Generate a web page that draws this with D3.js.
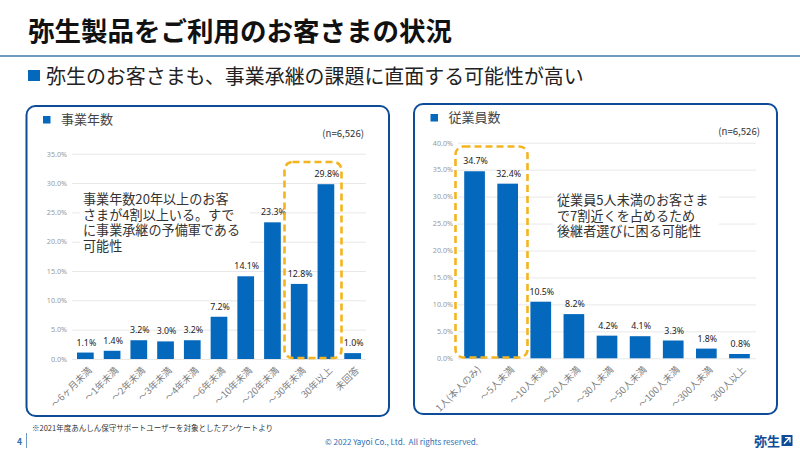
<!DOCTYPE html>
<html lang="ja"><head><meta charset="utf-8">
<script src="https://cdn.jsdelivr.net/npm/d3@7"></script>
<style>html,body{margin:0;padding:0;background:#fff}svg{display:block}text{font-family:"Noto Sans CJK JP","Noto Sans",sans-serif}</style>
</head><body><svg id="c" width="800" height="450"></svg>
<script>
const yearCats=["～6ヶ月未満","～1年未満","～2年未満","～3年未満","～4年未満","～6年未満","～10年未満","～20年未満","～30年未満","30年以上","未回答"];
const yearVals=[1.1,1.4,3.2,3.0,3.2,7.2,14.1,23.3,12.8,29.8,1.0];
const staffCats=["1人(本人のみ)","～5人未満","～10人未満","～20人未満","～30人未満","～50人未満","～100人未満","～300人未満","300人以上"];
const staffVals=[34.7,32.4,10.5,8.2,4.2,4.1,3.3,1.8,0.8];
const yearTicks=[0,5,10,15,20,25,30,35];
const staffTicks=[0,5,10,15,20,25,30,35,40];
const yearNote=["事業年数20年以上のお客","さまが4割以上いる。すで","に事業承継の予備軍である","可能性"];
const staffNote=["従業員5人未満のお客さま","で7割近くを占めるため","後継者選びに困る可能性"];
const BLUE="#0468bd", NAVY="#0f4c97", ORANGE="#f4b41f";
const svg=d3.select("#c");
function txt(x,y,s,size,fill,weight,anchor){return svg.append("text").attr("x",x).attr("y",y).attr("font-size",size).attr("fill",fill).attr("font-weight",weight||400).attr("text-anchor",anchor||"start").text(s);}
// header
txt(28,41,"弥生製品をご利用のお客さまの状況",26.5,"#111",700);
svg.append("rect").attr("x",0).attr("y",55).attr("width",800).attr("height",2).attr("fill","#6d9cc0");
svg.append("rect").attr("x",28).attr("y",70).attr("width",12).attr("height",11).attr("fill",BLUE);
txt(46,84,"弥生のお客さまも、事業承継の課題に直面する可能性が高い",19.95,"#222");
function panel(o){
  svg.append("rect").attr("x",o.px).attr("y",o.py).attr("width",o.pw).attr("height",o.ph).attr("rx",9).attr("fill","#fff").attr("stroke",NAVY).attr("stroke-width",2);
  svg.append("rect").attr("x",o.px+16.5).attr("y",o.py+10).attr("width",7.5).attr("height",7.5).attr("fill",BLUE);
  txt(o.px+34.5,o.py+18,o.title,13,"#444",400);
  txt(o.nx,o.ny,"(n=6,526)",9.6,"#333",400,"end");
  const x=d3.scaleBand().domain(o.cats).range([o.x0,o.x1]).paddingInner(o.pad).paddingOuter(o.pad/2);
  const y=d3.scaleLinear().domain([0,o.max]).range([o.y0,o.y1]);
  const g=svg.append("g");
  const ya=g.append("g").attr("transform",`translate(${o.x0},0)`).call(d3.axisLeft(y).tickValues(o.ticks).tickSize(-(o.x1-o.x0)).tickPadding(5).tickFormat(d=>d3.format(".1f")(d)+"%"));
  ya.select(".domain").remove();
  ya.selectAll("line").attr("stroke","#e8e8e8").attr("stroke-width",1);
  ya.selectAll("text").attr("fill","#999").attr("font-size",7.2).style("font-family",'"Noto Sans","Noto Sans CJK JP",sans-serif');
  svg.append("rect").attr("x",o.wx).attr("y",o.wy).attr("width",o.ww).attr("height",o.wh).attr("fill","#fff");
  const xa=g.append("g").attr("transform",`translate(0,${o.y0})`).call(d3.axisBottom(x).tickSize(0).tickPadding(0));
  xa.select(".domain").remove();
  xa.selectAll("text").attr("fill","#808080").attr("font-size",9.5).attr("text-anchor","end").attr("dy",0).attr("transform","translate(7,12) rotate(-45)");
  svg.selectAll(null).data(o.vals).join("rect").attr("x",(d,i)=>x(o.cats[i])).attr("width",x.bandwidth()).attr("y",d=>y(d)).attr("height",d=>o.y0-y(d)).attr("fill",BLUE);
  svg.selectAll(null).data(o.vals).join("text").attr("x",(d,i)=>x(o.cats[i])+x.bandwidth()/2+1).attr("y",d=>y(d)-7).attr("text-anchor","middle").attr("font-size",8.8).attr("fill","#222").attr("font-weight",400).style("font-family",'"Noto Sans","Noto Sans CJK JP",sans-serif').text(d=>d.toFixed(1)+"%");
  svg.append("rect").attr("x",o.dx).attr("y",o.dy).attr("width",o.dw).attr("height",o.dh).attr("rx",8).attr("fill","none").attr("stroke",ORANGE).attr("stroke-width",2.6).attr("stroke-dasharray","7 4");
  o.note.forEach((s,i)=>{txt(o.tx,o.ty+i*o.tl,s,o.fs,"#333",400);});
}
panel({px:26.5,py:106,pw:362.5,ph:310,title:"事業年数",nx:364,ny:137,cats:yearCats,vals:yearVals,ticks:yearTicks,max:35,
 x0:72,x1:366,y0:359,y1:153.7,pad:0.375,wx:80,wy:190,ww:170,wh:62,dx:284.5,dy:162,dw:57,dh:196,
 note:yearNote,tx:83,ty:204,tl:15.6,fs:13.1});
panel({px:414,py:104,pw:363,ph:310,title:"従業員数",nx:760,ny:135,cats:staffCats,vals:staffVals,ticks:staffTicks,max:40,
 x0:458,x1:756,y0:358.3,y1:142.7,pad:0.375,wx:553,wy:190,ww:166,wh:50,dx:455.5,dy:146.5,dw:72,dh:211,
 note:staffNote,tx:557,ty:205,tl:15.6,fs:13.1});
// footer
txt(32,430.5,"※2021年度あんしん保守サポートユーザーを対象としたアンケートより",7.5,"#333");
txt(17,445,"4",8.5,"#2d6db0",700);
svg.append("rect").attr("x",26).attr("y",433).attr("width",1).attr("height",15).attr("fill","#6d9cc0");
txt(401.5,445,"© 2022 Yayoi Co., Ltd.  All rights reserved.",8.05,"#2d6db0",400,"middle").style("white-space","pre");
txt(754,446,"弥生",13,NAVY,700);
const lg=svg.append("g").attr("transform","translate(781.5,435)");
lg.append("rect").attr("width",11).attr("height",11).attr("fill",NAVY);
lg.append("path").attr("d","M2.5 8.8 L8 3 M3.5 2.6 H8.5 V7.5").attr("fill","none").attr("stroke","#fff").attr("stroke-width",1.4);
</script></body></html>
